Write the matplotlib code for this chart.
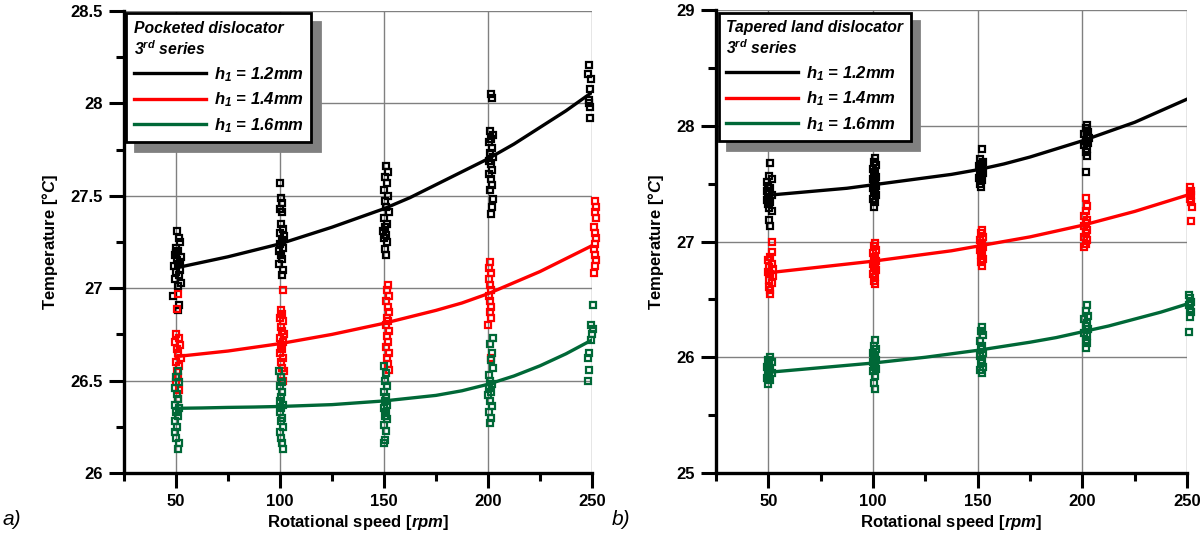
import matplotlib
matplotlib.use("Agg")
import matplotlib.pyplot as plt
from matplotlib.lines import Line2D
from matplotlib.ticker import MultipleLocator

plt.rcParams["font.family"] = ["Liberation Sans", "DejaVu Sans"]
plt.rcParams["font.weight"] = "bold"
plt.rcParams["mathtext.fontset"] = "custom"
plt.rcParams["mathtext.rm"] = "Liberation Sans:italic:bold"
plt.rcParams["mathtext.it"] = "Liberation Sans:italic:bold"
plt.rcParams["mathtext.bf"] = "Liberation Sans:italic:bold"

# ---- data: (rpm, temperature) readings ----
pk_black = [
    (50.5, 27.31), (51.5, 27.27), (52, 27.25), (50, 27.22), (51, 27.20), (49.5, 27.18),
    (52.5, 27.17), (50.5, 27.15), (51, 27.13), (49, 27.12), (52, 27.10), (50, 27.09),
    (51.5, 27.07), (49.5, 27.05), (52.5, 27.03), (51, 27.01), (48.5, 26.96), (51.5, 26.91),
    (51, 26.88), (50, 27.19), (52, 27.14),
    (100, 27.57), (100.5, 27.49), (101, 27.46), (100, 27.43), (101, 27.41), (100.5, 27.35),
    (101.5, 27.32), (100, 27.30), (102, 27.28), (101, 27.26), (100, 27.24), (101.5, 27.22),
    (99.5, 27.20), (100.5, 27.18), (101, 27.16), (99.5, 27.13), (101.5, 27.10), (101, 27.07),
    (151, 27.66), (152, 27.63), (150.5, 27.60), (151.5, 27.57), (150, 27.53), (152, 27.50),
    (150.5, 27.47), (151, 27.44), (152.5, 27.41), (150, 27.38), (151.5, 27.35), (150.5, 27.33),
    (149.5, 27.31), (151, 27.29), (150, 27.27), (151.5, 27.25), (150.5, 27.21), (151, 27.18),
    (201.5, 28.05), (202, 28.03), (201, 27.85), (202.5, 27.83), (201.5, 27.81), (200.5, 27.79),
    (202, 27.76), (201, 27.73), (202.5, 27.71), (200.5, 27.69), (201.5, 27.67), (202, 27.64),
    (200.5, 27.62), (201.5, 27.59), (202, 27.56), (201, 27.53), (202.5, 27.48), (202, 27.44),
    (201.5, 27.40),
    (248.5, 28.21), (248, 28.16), (249.5, 28.13), (249, 28.08), (248.5, 28.02), (248.5, 28.00),
    (249, 27.98), (249, 27.92),
]
pk_red = [
    (51, 26.97), (50.5, 26.89), (50, 26.75), (51.5, 26.73), (49.5, 26.71), (52, 26.69),
    (50.5, 26.67), (51, 26.65), (52.5, 26.62), (50, 26.60), (51.5, 26.58), (50.5, 26.55),
    (51, 26.52), (50, 26.49), (51.5, 26.45), (51, 26.40),
    (101.5, 26.99), (100.5, 26.88), (101, 26.86), (100, 26.84), (101.5, 26.82), (100.5, 26.79),
    (101, 26.77), (102, 26.75), (100, 26.73), (101.5, 26.71), (100.5, 26.69), (101, 26.67),
    (100, 26.65), (101.5, 26.62), (100.5, 26.60), (101, 26.57), (102, 26.55), (100.5, 26.52),
    (101.5, 26.50),
    (152, 27.02), (151.5, 26.99), (152.5, 26.96), (151, 26.93), (152, 26.90), (152.5, 26.87),
    (151.5, 26.84), (152, 26.82), (151, 26.80), (152.5, 26.77), (151.5, 26.74), (152, 26.71),
    (151, 26.68), (152.5, 26.65), (151.5, 26.62), (152, 26.59), (152.5, 26.56),
    (201, 27.14), (200.5, 27.11), (201.5, 27.08), (200.5, 27.05), (201, 27.02), (201.5, 26.99),
    (200.5, 26.96), (201, 26.93), (201.5, 26.90), (201, 26.87), (201.5, 26.84), (200, 26.80),
    (201.5, 26.62),
    (251.5, 27.47), (252, 27.44), (251.5, 27.41), (252, 27.38), (251, 27.33), (251.5, 27.30),
    (252, 27.27), (251.5, 27.24), (251, 27.21), (251.5, 27.18), (252, 27.15), (251.5, 27.12),
    (251, 27.08),
]
pk_green = [
    (51, 26.55), (50, 26.52), (51.5, 26.49), (49.5, 26.46), (50.5, 26.43), (51, 26.40),
    (49.5, 26.37), (51.5, 26.35), (50, 26.33), (51, 26.31), (49.5, 26.28), (50.5, 26.25),
    (49.5, 26.22), (50, 26.19), (51.5, 26.16), (51, 26.13),
    (99.5, 26.55), (100.5, 26.52), (101, 26.49), (100, 26.47), (101, 26.44), (100.5, 26.41),
    (100, 26.39), (101.5, 26.37), (100.5, 26.35), (100, 26.33), (101, 26.30), (100.5, 26.28),
    (101.5, 26.25), (100, 26.22), (100.5, 26.19), (101, 26.16), (101.5, 26.13),
    (150, 26.58), (151, 26.54), (150.5, 26.50), (151.5, 26.47), (150, 26.44), (151, 26.41),
    (150.5, 26.39), (151.5, 26.37), (150, 26.35), (151, 26.33), (150.5, 26.31), (151.5, 26.29),
    (150, 26.26), (151, 26.23), (150.5, 26.18), (150, 26.16),
    (202.5, 26.73), (201, 26.70), (202, 26.65), (201.5, 26.61), (202.5, 26.57), (200.5, 26.53),
    (201, 26.50), (202, 26.48), (200.5, 26.46), (201.5, 26.44), (200, 26.42), (201, 26.39),
    (202, 26.36), (200.5, 26.33), (201.5, 26.30), (201, 26.27),
    (250.5, 26.91), (249.5, 26.80), (250.5, 26.78), (250, 26.75), (249.5, 26.72), (248.5, 26.65),
    (248, 26.62), (248.5, 26.56), (248, 26.50),
]

tp_black = [
    (51, 27.68), (50.5, 27.57), (51.5, 27.54), (49.5, 27.51), (50, 27.48), (51, 27.46),
    (49.5, 27.44), (50.5, 27.42), (51.5, 27.40), (50, 27.38), (49.5, 27.36), (51, 27.34),
    (50, 27.32), (50.5, 27.29), (51.5, 27.26), (50.5, 27.19), (51, 27.13),
    (101, 27.72), (100.5, 27.69), (101.5, 27.66), (100, 27.63), (101, 27.60), (100.5, 27.58),
    (101.5, 27.56), (100, 27.54), (101, 27.52), (100.5, 27.50), (101.5, 27.48), (100, 27.46),
    (101, 27.44), (100.5, 27.42), (101.5, 27.40), (100, 27.37), (101, 27.34), (100.5, 27.30),
    (152, 27.80), (151, 27.71), (152.5, 27.69), (151.5, 27.67), (150.5, 27.65), (152, 27.63),
    (151, 27.61), (152.5, 27.59), (151.5, 27.57), (150.5, 27.55), (152, 27.53), (151, 27.50),
    (151.5, 27.47),
    (202, 28.01), (201.5, 27.98), (202.5, 27.95), (201, 27.93), (202, 27.91), (203, 27.89),
    (201.5, 27.87), (202.5, 27.85), (201, 27.83), (202, 27.80), (201.5, 27.77), (202, 27.74),
    (201.5, 27.60),
]
tp_red = [
    (51.5, 27.00), (51.5, 26.91), (51, 26.87), (50, 26.84), (51.5, 26.81), (50.5, 26.78),
    (52, 26.76), (50, 26.74), (51, 26.72), (52, 26.70), (50.5, 26.67), (51.5, 26.64),
    (50.5, 26.61), (51, 26.58), (51, 26.55),
    (101, 26.99), (100.5, 26.96), (101.5, 26.93), (100, 26.90), (101, 26.87), (100.5, 26.85),
    (101.5, 26.83), (100, 26.81), (101, 26.79), (100.5, 26.77), (101.5, 26.75), (100, 26.72),
    (101, 26.69), (100.5, 26.66), (101, 26.63),
    (152, 27.10), (151.5, 27.07), (152.5, 27.04), (151, 27.01), (152, 26.99), (151.5, 26.97),
    (152.5, 26.95), (151, 26.93), (152, 26.91), (151.5, 26.88), (152.5, 26.85), (151.5, 26.82),
    (152, 26.79),
    (201.5, 27.38), (202, 27.31), (201.5, 27.26), (201, 27.22), (202, 27.19), (201.5, 27.16),
    (201, 27.13), (202, 27.10), (201.5, 27.07), (201, 27.04), (202, 27.01), (201.5, 26.98),
    (201, 26.95),
    (251.5, 27.47), (252, 27.44), (251.5, 27.42), (252, 27.40), (251.5, 27.37), (252, 27.34),
    (252.5, 27.30), (252, 27.18),
]
tp_green = [
    (51, 26.00), (50, 25.98), (51.5, 25.96), (50.5, 25.94), (49.5, 25.92), (51, 25.90),
    (50, 25.88), (51.5, 25.86), (50.5, 25.84), (49.5, 25.82), (51, 25.80), (50, 25.77),
    (101, 26.15), (100.5, 26.10), (101.5, 26.07), (100, 26.04), (101, 26.02), (100.5, 26.00),
    (101.5, 25.98), (100, 25.96), (101, 25.94), (100.5, 25.92), (101.5, 25.90), (100, 25.88),
    (101, 25.84), (100.5, 25.78), (101, 25.73),
    (152, 26.26), (151.5, 26.23), (152.5, 26.19), (151, 26.14), (152, 26.10), (151.5, 26.07),
    (152.5, 26.04), (151, 26.01), (152, 25.98), (151.5, 25.95), (152.5, 25.92), (151, 25.89),
    (152, 25.86),
    (202, 26.45), (201.5, 26.40), (202.5, 26.36), (201, 26.33), (202, 26.30), (201.5, 26.27),
    (202.5, 26.24), (201, 26.21), (202, 26.18), (201.5, 26.15), (202, 26.12), (201.5, 26.08),
    (251, 26.54), (251.5, 26.51), (252, 26.48), (251, 26.45), (251.5, 26.42), (252, 26.39),
    (251.5, 26.35), (251, 26.22),
]

fit_rpm = [50, 62.5, 75, 87.5, 100, 112.5, 125, 137.5, 150,
           162.5, 175, 187.5, 200, 212.5, 225, 237.5, 250]
pk_fit_black = [27.11, 27.14, 27.17, 27.205, 27.24, 27.285, 27.33, 27.38, 27.43,
                27.49, 27.56, 27.63, 27.70, 27.78, 27.87, 27.96, 28.06]
pk_fit_red = [26.63, 26.645, 26.66, 26.68, 26.70, 26.725, 26.75, 26.78, 26.81,
              26.845, 26.88, 26.92, 26.97, 27.03, 27.09, 27.16, 27.23]
pk_fit_green = [26.35, 26.352, 26.355, 26.357, 26.36, 26.365, 26.37, 26.38, 26.39,
                26.405, 26.42, 26.445, 26.48, 26.525, 26.58, 26.645, 26.72]
tp_fit_black = [27.40, 27.42, 27.44, 27.46, 27.49, 27.52, 27.55, 27.58, 27.62,
                27.67, 27.73, 27.80, 27.87, 27.95, 28.03, 28.13, 28.23]
tp_fit_red = [26.73, 26.755, 26.78, 26.805, 26.83, 26.86, 26.89, 26.92, 26.96,
              27.00, 27.04, 27.09, 27.14, 27.20, 27.26, 27.33, 27.40]
tp_fit_green = [25.87, 25.89, 25.91, 25.93, 25.95, 25.975, 26.00, 26.03, 26.06,
                26.095, 26.13, 26.17, 26.22, 26.27, 26.33, 26.39, 26.46]

labels = ["$h_1$ = 1.2mm", "$h_1$ = 1.4mm", "$h_1$ = 1.6mm"]
colors = ["#000000", "#ff0000", "#006837"]

fig = plt.figure(figsize=(12.01, 5.44), dpi=100)
ax_a = fig.add_axes([0.1032, 0.1305, 0.3897, 0.8493])
ax_b = fig.add_axes([0.5962, 0.1305, 0.3922, 0.8511])


def draw_panel(ax, groups, fits, ylim, ymaj, title):
    for pts, fit, c in zip(groups, fits, colors):
        xs = [p[0] for p in pts]
        ys = [p[1] for p in pts]
        ax.plot(xs, ys, ls="none", marker="s", ms=4.6, mfc="none", mec=c,
                mew=1.6, clip_on=False, zorder=3)
        ax.plot(fit_rpm, fit, color=c, lw=2.4, zorder=4)

    ax.set_xlim(25, 250)
    ax.set_ylim(*ylim)
    ax.xaxis.set_major_locator(MultipleLocator(50))
    ax.xaxis.set_minor_locator(MultipleLocator(25))
    ax.yaxis.set_major_locator(MultipleLocator(ymaj))
    ax.yaxis.set_minor_locator(MultipleLocator(ymaj / 2))
    ax.yaxis.set_major_formatter(plt.FuncFormatter(lambda v, p: f"{v:g}"))
    ax.grid(True, which="major", color="0.5", lw=1)
    ax.set_axisbelow(True)
    for s in ["top", "right"]:
        ax.spines[s].set_visible(False)
    for s in ["left", "bottom"]:
        ax.spines[s].set_linewidth(2.4)
    ax.tick_params(which="major", direction="out", length=11, width=2.2,
                   labelsize=12, pad=4)
    ax.tick_params(which="minor", direction="out", length=6, width=2.2)
    ax.set_xlabel("Rotational speed [$rpm$]", fontsize=12, fontweight="bold", labelpad=3)
    ax.set_ylabel("Temperature [°$C$]", fontsize=12, fontweight="bold", labelpad=8)

    handles = [Line2D([], [], color=c, lw=2.4) for c in colors]
    leg = ax.legend(handles, labels, title=title + "\n3$^{rd}$ series",
                    loc="upper left", bbox_to_anchor=(0.0, 1.0),
                    borderaxespad=0.15, fancybox=False, edgecolor="black",
                    framealpha=1, alignment="left",
                    shadow={"ox": 6, "oy": -6, "facecolor": "0.5",
                            "edgecolor": "0.5", "alpha": 1},
                    handlelength=4.3, handletextpad=0.5, labelspacing=0.42,
                    borderpad=0.45,
                    prop={"size": 12, "weight": "bold", "style": "italic"},
                    title_fontproperties={"size": 11.3, "weight": "bold",
                                          "style": "italic"})
    leg.get_frame().set_linewidth(2)
    leg.set_zorder(6)


draw_panel(ax_a, [pk_black, pk_red, pk_green],
           [pk_fit_black, pk_fit_red, pk_fit_green],
           (26, 28.5), 0.5, "Pocketed dislocator")
draw_panel(ax_b, [tp_black, tp_red, tp_green],
           [tp_fit_black, tp_fit_red, tp_fit_green],
           (25, 29), 1, "Tapered land dislocator")

fig.text(0.002, 0.035, "a)", fontsize=15, style="italic", fontweight="normal")
fig.text(0.509, 0.035, "b)", fontsize=15, style="italic", fontweight="normal")

fig.savefig("out.png", dpi=100)
